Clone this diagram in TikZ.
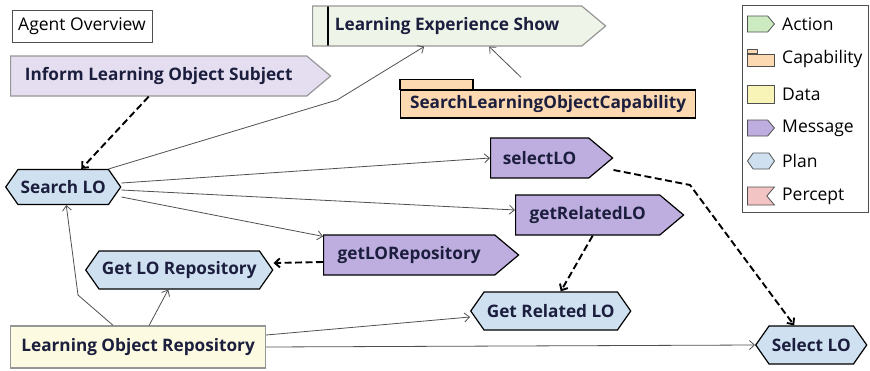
\documentclass[tikz,border=0pt]{standalone}
\usepackage{fontspec}
\setmainfont{Open Sans}
\usepackage{tikz}
\usetikzlibrary{arrows.meta,calc,positioning,shapes.symbols}
\definecolor{ink}{RGB}{28,30,62}
\definecolor{edge}{RGB}{80,80,80}
\definecolor{fadeline}{RGB}{150,150,150}
\definecolor{msgbg}{RGB}{190,173,223}
\definecolor{msgfade}{RGB}{228,222,240}
\definecolor{planbg}{RGB}{207,225,240}
\definecolor{actbg}{RGB}{204,235,192}
\definecolor{actfade}{RGB}{238,245,232}
\definecolor{capbg}{RGB}{252,217,176}
\definecolor{databg}{RGB}{248,244,184}
\definecolor{datafade}{RGB}{252,250,224}
\definecolor{perceptbg}{RGB}{242,196,196}
\newcommand{\LabelFont}{\fontsize{17.2}{19}\selectfont}
\newcommand{\KeyFont}{\fontsize{17.5}{19}\selectfont}
\tikzset{
  msg/.style={signal, signal to=east, signal pointer angle=80, draw=black, line width=1.2pt, fill=msgbg, font=\bfseries\LabelFont, text=ink, minimum height=40pt, inner xsep=2pt, anchor=west},
  plan/.style={signal, signal to=east and west, signal pointer angle=110, draw=black, line width=1.2pt, fill=planbg, font=\bfseries\LabelFont, text=ink, minimum height=38pt, inner xsep=1pt, anchor=west},
  act/.style={signal, signal to=east, signal pointer angle=80, draw=fadeline, line width=1.2pt, fill=actfade, font=\bfseries\LabelFont, text=ink, minimum height=40pt, inner xsep=2pt, anchor=west,
    path picture={\draw[black, line width=2.2pt] ([xshift=15pt]path picture bounding box.north west) -- ([xshift=15pt]path picture bounding box.south west);}},
  capbox/.style={rectangle, draw=black, line width=1.2pt, fill=capbg, font=\bfseries\LabelFont, text=ink, minimum height=28pt, inner sep=1pt, anchor=west},
  databox/.style={rectangle, draw=fadeline, line width=1.2pt, fill=datafade, font=\bfseries\LabelFont, text=ink, minimum height=42pt, anchor=west},
  keyicon/.style={draw=edge, line width=0.8pt, minimum width=27pt, minimum height=16pt, inner sep=0pt, anchor=west},
  keytext/.style={font=\KeyFont, text=black, anchor=west, inner sep=0pt},
  link/.style={-{Straight Barb[length=5pt, width=9pt]}, line width=0.8pt, draw=edge},
  dlink/.style={-{Straight Barb[length=5pt, width=9pt]}, line width=1.9pt, dash pattern=on 7pt off 3.5pt, draw=black}
}
\begin{document}
\begin{tikzpicture}[x=1pt, y=-1pt]
  \useasboundingbox (0,0) rectangle (870,370);
  \node[draw=edge, line width=0.8pt, minimum width=140pt, minimum height=32pt, inner sep=1pt, font=\KeyFont] (title) at (82,26) {Agent Overview};
  % messages, action and capability
  \node[msg, fill=msgfade, draw=fadeline, minimum width=320pt] (ilos) at (10,76) {Inform Learning Object Subject};
  \node[act, minimum width=293pt] (les) at (312,26) {Learning Experience Show};
  \node[capbox, minimum width=295pt] (cap) at (400,104) {SearchLearningObjectCapability};
  \draw[black, line width=1.2pt, fill=capbg] (cap.north west) rectangle ++(73,-10);
  \node[msg, minimum width=122pt] (selectlo) at (490,158) {selectLO};
  \node[msg, minimum width=168pt] (getrel) at (515,215) {getRelatedLO};
  \node[msg, minimum width=195pt] (getrepo) at (323,255) {getLORepository};
  % plans and data
  \node[plan, minimum height=35pt, minimum width=115pt] (search) at (5,187) {Search LO};
  \node[plan, minimum width=187pt] (getlorepo) at (85,270) {Get LO Repository};
  \node[plan, minimum width=160pt] (getrelplan) at (470,311) {Get Related LO};
  \node[plan, minimum width=111pt] (selplan) at (755,345) {Select LO};
  \node[databox, minimum width=255pt] (lor) at (10,347) {Learning Object Repository};
  % legend
  \node[draw=edge, line width=0.8pt, minimum width=126pt, minimum height=207pt] (legend) at (805,109) {};
  \node[keyicon, signal, signal to=east, signal pointer angle=100, fill=actbg] (kact) at (747,24) {};
  \node[keytext] (tact) at (782,24) {Action};
  \node[keyicon, fill=capbg, minimum height=12pt] (kcap) at (747,60) {};
  \draw[edge, line width=0.8pt, fill=capbg] (kcap.north west) rectangle ++(10,-4);
  \node[keytext] (tcap) at (782,59) {Capability};
  \node[keyicon, fill=databg, minimum height=18pt] (kdata) at (747,94) {};
  \node[keytext] (tdata) at (782,94) {Data};
  \node[keyicon, signal, signal to=east, signal pointer angle=100, fill=msgbg] (kmsg) at (747,128) {};
  \node[keytext] (tmsg) at (782,128) {Message};
  \node[keyicon, signal, signal to=east and west, signal pointer angle=110, fill=planbg] (kplan) at (747,161) {};
  \node[keytext] (tplan) at (782,161) {Plan};
  \node[keyicon, signal, signal to=nothing, signal from=east, signal pointer angle=100, fill=perceptbg, minimum height=18pt] (kper) at (747,196) {};
  \node[keytext] (tper) at (782,196) {Percept};
  % links
  \coordinate (bendles) at (337,100);
  \coordinate (bendsel) at (690,185);
  \coordinate (bendlor) at (78,295);
  \draw[dlink] ([xshift=-10pt]ilos.south) -- ([xshift=18pt]search.north);
  \draw[link] (search.north east) -- (bendles) -- ([xshift=-23pt]les.south);
  \draw[link] ([xshift=-27pt, yshift=12pt]cap.north) -- ([xshift=42pt]les.south);
  \draw[link] ([yshift=4pt]search.east) -- (selectlo.west);
  \draw[link] ([yshift=-3pt]search.east) -- ([yshift=5pt]getrel.west);
  \draw[link] ([yshift=-10pt]search.east) -- ([yshift=-2pt]getrepo.north west);
  \draw[dlink] ([yshift=-7pt]getrepo.west) -- ([yshift=7pt]getlorepo.east);
  \draw[dlink] ([xshift=5pt]getrel.south) -- ([xshift=10pt]getrelplan.north);
  \draw[dlink] ([yshift=-12pt]selectlo.east) -- (bendsel) -- ([xshift=-17pt]selplan.north);
  \draw[link] ([xshift=-25pt]lor.north) -- (bendlor) -- ([xshift=3pt]search.south);
  \draw[link] ([xshift=11pt]lor.north) -- ([xshift=-11pt]getlorepo.south);
  \draw[link] ([yshift=12pt]lor.east) -- ([yshift=-6pt]getrelplan.west);
  \draw[link] (lor.east) -- (selplan.west);
\end{tikzpicture}
\end{document}
